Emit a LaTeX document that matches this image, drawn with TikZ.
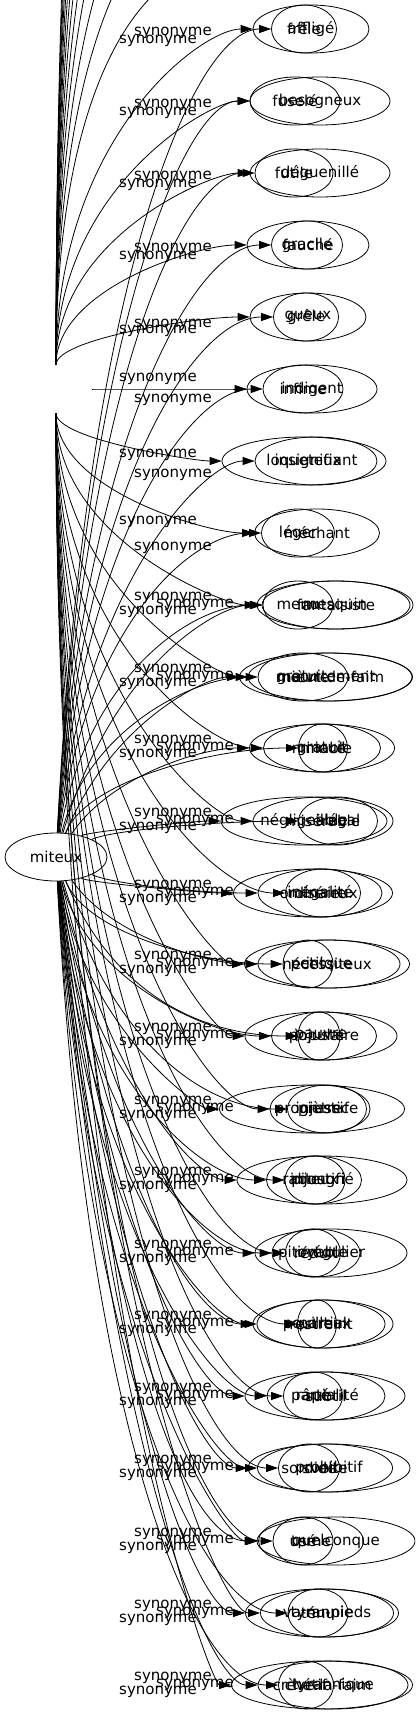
\documentclass[tikz,border=0pt]{standalone}
\usepackage{fontspec}
\setmainfont{DejaVu Sans}
\usepackage{tikz}
\usetikzlibrary{arrows.meta,calc,positioning,shapes.geometric}

\newcommand\wtext[1]{\makebox[0pt]{#1}}

\tikzset{
  word/.style={ellipse, draw, line width=0.8pt, inner sep=0pt, minimum height=48pt},
  hub/.style={ellipse, draw=none, inner sep=0pt, minimum width=72pt, minimum height=48pt},
  syn/.style={line width=0.8pt, -{Triangle[length=12pt,width=8pt]}},
  lbl/.style={inner sep=0pt}
}

\begin{document}
\begin{tikzpicture}[x=1pt, y=-1pt, font=\fontsize{15}{18}\selectfont]
    \useasboundingbox (0,0) rectangle (415,1715);
    \clip (0,0) rectangle (415,1715);

    % Root
    \node[word, minimum width=102pt] (miteux) at (56,857) {\wtext{miteux}};
    % root of the second layer (no outline)
    \node[hub] (hubB) at (56,389) {};

    % Targets
    \foreach \n/\x/\y/\w/\t in {
        a1/311/29/116/affligé, b1/304/29/65/frêle,
        a2/320/101/140/besogneux, b2/295/101/90/fuselé,
        a3/320/173/140/déguenillé, b3/294/173/78/futile,
        a4/308/245/122/fauché, b4/307/245/71/gracile,
        a5/308/317/116/gueux, b5/306/317/65/grêle,
        a6/312/389/130/indigent, b6/303/389/80/infime,
        a7/304/461/164/loqueteux, b7/316/461/122/insignifiant,
        a8/317/533/125/méchant, b8/298/533/73/léger,
        a9/335/605/156/mesquin, c9/336/605/148/fantaisiste, b9/298/605/70/menu,
        a10/330/677/164/meurt-de-faim, c10/326/677/173/gratuitement, b10/303/677/90/mièvre,
        a11/322/748/117/minable, c11/322/748/145/gratuit, b11/323/748/49/mince,
        b12/304/821/166/négligeable, a12/323/821/140/misérable, c12/338/821/79/illégal,
        b13/313/893/159/ordinaire, c13/320/893/124/inégalité, a13/323/893/75/miséreux,
        a14/327/964/165/nécessiteux, c14/329/964/142/inique, b14/308/964/50/petit,
        a15/321/1036/152/pauvre, b15/324/1036/105/populaire, c15/319/1036/42/injuste,
        b16/312/1109/185/progressif, a16/320/1109/100/piètre, c16/327/1109/79/injustice,
        c17/322/1180/170/injustifié, b17/314/1180/95/rabougri, a17/315/1180/60/piteux,
        c18/331/1253/152/irrégulier, b18/316/1253/88/réduit, a18/313/1253/55/pitoyable,
        c19/323/1324/140/partial, b19/321/1324/128/restreint, a19/317/1324/39/pouilleux,
        c20/325/1396/160/partialité, b20/326/1396/118/subtil, a20/313/1396/59/râpé,
        c21/329/1468/162/prohibitif, b21/325/1468/135/svelte, a21/309/1468/61/sordide,
        b22/336/1541/158/quelconque, c22/311/1541/105/terne, a22/303/1541/60/usé,
        a23/327/1613/133/va-nu-pieds, c23/322/1613/153/tyrannie, b23/318/1613/60/ténu,
        a24/322/1685/181/crève-la-faim, c24/333/1685/150/tyrannique, b24/306/1685/55/chétif}
        \node[word, minimum width=\w pt] (\n) at (\x,\y) {\wtext{\t}};

    % targets of the second layer above the page
    \foreach \k in {1,...,13}
        \coordinate (up\k) at (250,{29-72*\k});

    % First layer, from miteux
    \foreach \g/\y/\dl in {1/29/4, 2/101/4, 3/173/4, 4/245/4, 5/317/8, 6/389/11,
        7/461/14, 8/533/15, 9/605/-7, 10/677/-7, 11/748/-7, 12/821/-7, 13/893/-7,
        14/964/-7, 15/1036/-7, 16/1109/-7, 17/1180/-7, 18/1253/-7, 19/1324/-7,
        20/1396/-7, 21/1468/-7, 22/1541/-7, 23/1613/-7, 24/1685/-7} {
        \pgfmathsetmacro\ctl{0.7*(\y-857)}
        \draw[syn] (miteux) .. controls +(30,\ctl) and +(-110,0) .. (b\g)
            node[lbl] at (173,{\y+(\dl)}) {synonyme};
    }

    % Second layer
    \foreach \g/\y/\dl in {1/29/12, 2/101/12, 3/173/12, 4/245/12, 5/317/14, 6/389/-10,
        7/461/-6, 8/533/-11, 9/605/7, 10/677/7, 11/748/7, 12/821/7, 13/893/7,
        14/964/7, 15/1036/7, 16/1109/7, 17/1180/7, 18/1253/7, 19/1324/7,
        20/1396/7, 21/1468/7, 22/1541/7, 23/1613/7, 24/1685/7} {
        \pgfmathsetmacro\ctl{0.7*(\y-389)}
        \pgfmathsetmacro\cx{abs(\y-389)<1 ? 40 : 0}
        \draw[syn] (hubB) .. controls +(\cx,\ctl) and +(-110,0) .. (a\g)
            node[lbl] at (158,{\y+(\dl)}) {synonyme};
    }
    \foreach \k in {1,...,13} {
        \pgfmathsetmacro\ctl{0.7*(29-72*\k-389)}
        \draw[syn] (hubB) .. controls +(0,\ctl) and +(-110,0) .. (up\k);
    }

    % Third layer, also from miteux
    \foreach \g/\y in {9/605, 10/677, 11/748, 12/821, 13/893, 14/964, 15/1036,
        16/1109, 17/1180, 18/1253, 19/1324, 20/1396, 21/1468, 22/1541, 23/1613, 24/1685} {
        \pgfmathsetmacro\ctl{0.75*(\y-857)}
        \draw[syn] (miteux) .. controls +(55,\ctl) and +(-120,0) .. (c\g)
            node[lbl] at (195,\y) {synonyme};
    }
\end{tikzpicture}
\end{document}
